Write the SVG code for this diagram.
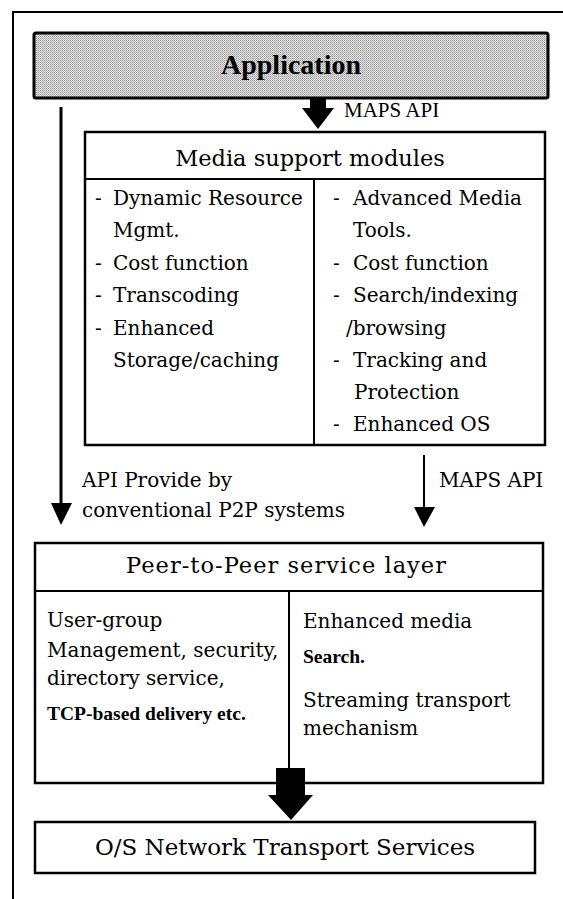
<svg xmlns="http://www.w3.org/2000/svg" width="563" height="899" viewBox="0 0 563 899">
  <style>
    .frame { fill: none; stroke: #000; stroke-width: 2; }
    .box { fill: #fff; stroke: #000; stroke-width: 2.5; }
    .div { fill: none; stroke: #000; stroke-width: 2; }
    .t { font-family: "DejaVu Serif", "Liberation Serif", serif; font-size: 20px; fill: #000; }
    .hd { font-family: "DejaVu Serif", "Liberation Serif", serif; font-size: 22.5px; fill: #000; text-anchor: middle; }
    .bt { font-family: "Liberation Serif", "Times New Roman", serif; font-weight: bold; font-size: 19.5px; fill: #000; }
    .lbl { font-family: "Liberation Serif", "Times New Roman", serif; font-size: 21px; fill: #000; }
    .arrow { fill: #000; stroke: none; }
    .line { fill: none; stroke: #000; }
  </style>
  <defs>
    <!-- fine dithered grey used for the top layer -->
    <pattern id="dither" x="0" y="0" width="2" height="2" patternUnits="userSpaceOnUse">
      <rect width="2" height="2" fill="#e2e2e2"/>
      <rect x="0" y="0" width="1" height="1" fill="#9c9c9c"/>
      <rect x="1" y="1" width="1" height="1" fill="#b8b8b8"/>
    </pattern>
  </defs>

  <!-- outer frame (top and left edges) -->
  <path class="frame" d="M13,899 V12 H563"/>

  <g id="application">
    <rect x="34" y="33" width="514" height="65" rx="2" fill="url(#dither)" stroke="#000" stroke-width="3"/>
    <text x="291" y="74" text-anchor="middle" font-family="Liberation Serif, Times New Roman, serif" font-weight="bold" font-size="28px">Application</text>
  </g>

  <g id="media-support-modules">
    <rect class="box" x="85" y="132" width="460" height="313"/>
    <line class="div" x1="85" y1="179" x2="545" y2="179"/>
    <line class="div" x1="314" y1="179" x2="314" y2="445"/>
    <text class="hd" x="310" y="166">Media support modules</text>
    <!-- left column -->
    <text class="t" x="95" y="205">-</text><text class="t" x="113" y="205">Dynamic Resource</text>
    <text class="t" x="113" y="237">Mgmt.</text>
    <text class="t" x="95" y="270">-</text><text class="t" x="113" y="270">Cost function</text>
    <text class="t" x="95" y="302">-</text><text class="t" x="113" y="302">Transcoding</text>
    <text class="t" x="95" y="335">-</text><text class="t" x="113" y="335">Enhanced</text>
    <text class="t" x="113" y="367">Storage/caching</text>
    <!-- right column -->
    <text class="t" x="333" y="205">-</text><text class="t" x="353" y="205">Advanced Media</text>
    <text class="t" x="353" y="237">Tools.</text>
    <text class="t" x="333" y="270">-</text><text class="t" x="353" y="270">Cost function</text>
    <text class="t" x="333" y="302">-</text><text class="t" x="353" y="302">Search/indexing</text>
    <text class="t" x="346" y="335">/browsing</text>
    <text class="t" x="333" y="367">-</text><text class="t" x="353" y="367">Tracking and</text>
    <text class="t" x="354" y="399">Protection</text>
    <text class="t" x="333" y="431">-</text><text class="t" x="353" y="431">Enhanced OS</text>
  </g>

  <g id="p2p-service-layer">
    <rect class="box" x="35" y="543" width="508" height="240"/>
    <line class="div" x1="35" y1="591" x2="543" y2="591"/>
    <line class="div" x1="289" y1="591" x2="289" y2="770"/>
    <text class="hd" x="286" y="573" textLength="320">Peer-to-Peer service layer</text>
    <!-- left column -->
    <text class="t" x="47" y="627">User-group</text>
    <text class="t" x="47" y="657">Management, security,</text>
    <text class="t" x="47" y="685">directory service,</text>
    <text class="bt" x="47" y="720">TCP-based delivery etc.</text>
    <!-- right column -->
    <text class="t" x="303" y="628">Enhanced media</text>
    <text class="bt" x="303" y="663">Search.</text>
    <text class="t" x="303" y="707">Streaming transport</text>
    <text class="t" x="303" y="735">mechanism</text>
  </g>

  <g id="os-network-transport">
    <rect class="box" x="35" y="822" width="500" height="51"/>
    <text x="285" y="855" text-anchor="middle" font-family="DejaVu Serif, Liberation Serif, serif" font-size="23px">O/S Network Transport Services</text>
  </g>

  <g id="connectors">
    <!-- MAPS API from the application into the media modules -->
    <rect class="arrow" x="310" y="98" width="16" height="10"/>
    <polygon class="arrow" points="302,108 334,108 318,129"/>
    <text class="lbl" x="344" y="117">MAPS API</text>

    <!-- conventional P2P API path -->
    <line class="line" x1="61" y1="107" x2="61" y2="505" stroke-width="3"/>
    <polygon class="arrow" points="51,503 72,503 61,525"/>
    <text class="t" x="82" y="487">API Provide by</text>
    <text class="t" x="82" y="517">conventional P2P systems</text>

    <!-- MAPS API from the media modules down to the P2P layer -->
    <line class="line" x1="424" y1="455" x2="424" y2="509" stroke-width="2"/>
    <polygon class="arrow" points="414,507 435,507 424,527"/>
    <text class="t" x="439" y="487">MAPS API</text>

    <!-- P2P layer down to transport services -->
    <rect class="arrow" x="276" y="768" width="29" height="28"/>
    <polygon class="arrow" points="268,795 313,795 291,820"/>
  </g>
</svg>
